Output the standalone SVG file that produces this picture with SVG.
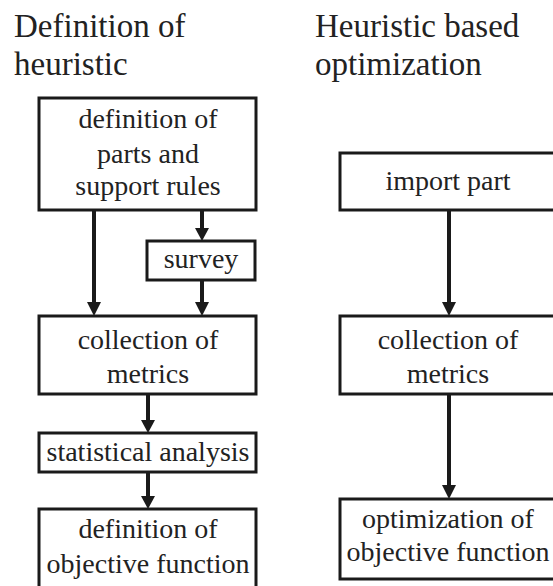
<svg xmlns="http://www.w3.org/2000/svg" width="553" height="586" viewBox="0 0 553 586">
<rect width="553" height="586" fill="#fff"/>
<g id="titles" fill="#222" font-size="33">
<text style="font-family:'Liberation Serif',Tinos,'Times New Roman',serif" x="14" y="37">Definition of</text>
<text style="font-family:'Liberation Serif',Tinos,'Times New Roman',serif" x="14" y="75">heuristic</text>
<text style="font-family:'Liberation Serif',Tinos,'Times New Roman',serif" x="315" y="37">Heuristic based</text>
<text style="font-family:'Liberation Serif',Tinos,'Times New Roman',serif" x="315" y="75">optimization</text>
</g>
<g id="connectors" fill="#1a1a1a">
<path stroke="#1a1a1a" stroke-width="4" fill="none" d="M94,210 V304 M202,210 V229 M202,280 V304 M148,394 V421 M148,472 V497 M449,210 V304 M449,394 V487"/>
<path d="M87,302 L101,302 L94,316 Z"/>
<path d="M195,228 L209,228 L202,241 Z"/>
<path d="M195,302 L209,302 L202,316 Z"/>
<path d="M141,420 L155,420 L148,433 Z"/>
<path d="M141,496 L155,496 L148,509 Z"/>
<path d="M442,302 L456,302 L449,316 Z"/>
<path d="M442,485 L456,485 L449,499 Z"/>
</g>
<g id="n-def-parts">
<rect x="39" y="98" width="217" height="112" fill="#fff" stroke="#1a1a1a" stroke-width="3"/>
<text style="font-family:'Liberation Serif',Tinos,serif;font-size:28px;fill:#222;text-anchor:middle" x="148" y="128">definition of</text>
<text style="font-family:'Liberation Serif',Tinos,serif;font-size:28px;fill:#222;text-anchor:middle" x="148" y="163">parts and</text>
<text style="font-family:'Liberation Serif',Tinos,serif;font-size:28px;fill:#222;text-anchor:middle" x="148" y="195">support rules</text>
</g>
<g id="n-survey">
<rect x="147" y="241" width="108" height="39" fill="#fff" stroke="#1a1a1a" stroke-width="3"/>
<text style="font-family:'Liberation Serif',Tinos,serif;font-size:28px;fill:#222;text-anchor:middle" x="201" y="268">survey</text>
</g>
<g id="n-collect-left">
<rect x="39" y="316" width="217" height="78" fill="#fff" stroke="#1a1a1a" stroke-width="3"/>
<text style="font-family:'Liberation Serif',Tinos,serif;font-size:28px;fill:#222;text-anchor:middle" x="148" y="349">collection of</text>
<text style="font-family:'Liberation Serif',Tinos,serif;font-size:28px;fill:#222;text-anchor:middle" x="148" y="383">metrics</text>
</g>
<g id="n-stat">
<rect x="39" y="433" width="217" height="39" fill="#fff" stroke="#1a1a1a" stroke-width="3"/>
<text style="font-family:'Liberation Serif',Tinos,serif;font-size:28px;fill:#222;text-anchor:middle" x="148" y="461">statistical analysis</text>
</g>
<g id="n-def-obj">
<rect x="39" y="509" width="217" height="90" fill="#fff" stroke="#1a1a1a" stroke-width="3"/>
<text style="font-family:'Liberation Serif',Tinos,serif;font-size:28px;fill:#222;text-anchor:middle" x="148" y="538">definition of</text>
<text style="font-family:'Liberation Serif',Tinos,serif;font-size:28px;fill:#222;text-anchor:middle" x="148" y="573">objective function</text>
</g>
<g id="n-import">
<rect x="340" y="153" width="217" height="57" fill="#fff" stroke="#1a1a1a" stroke-width="3"/>
<text style="font-family:'Liberation Serif',Tinos,serif;font-size:28px;fill:#222;text-anchor:middle" x="448" y="190">import part</text>
</g>
<g id="n-collect-right">
<rect x="340" y="316" width="217" height="78" fill="#fff" stroke="#1a1a1a" stroke-width="3"/>
<text style="font-family:'Liberation Serif',Tinos,serif;font-size:28px;fill:#222;text-anchor:middle" x="448" y="349">collection of</text>
<text style="font-family:'Liberation Serif',Tinos,serif;font-size:28px;fill:#222;text-anchor:middle" x="448" y="383">metrics</text>
</g>
<g id="n-opt">
<rect x="340" y="499" width="217" height="80" fill="#fff" stroke="#1a1a1a" stroke-width="3"/>
<text style="font-family:'Liberation Serif',Tinos,serif;font-size:28px;fill:#222;text-anchor:middle" x="448" y="528">optimization of</text>
<text style="font-family:'Liberation Serif',Tinos,serif;font-size:28px;fill:#222;text-anchor:middle" x="448" y="561">objective function</text>
</g>
</svg>
